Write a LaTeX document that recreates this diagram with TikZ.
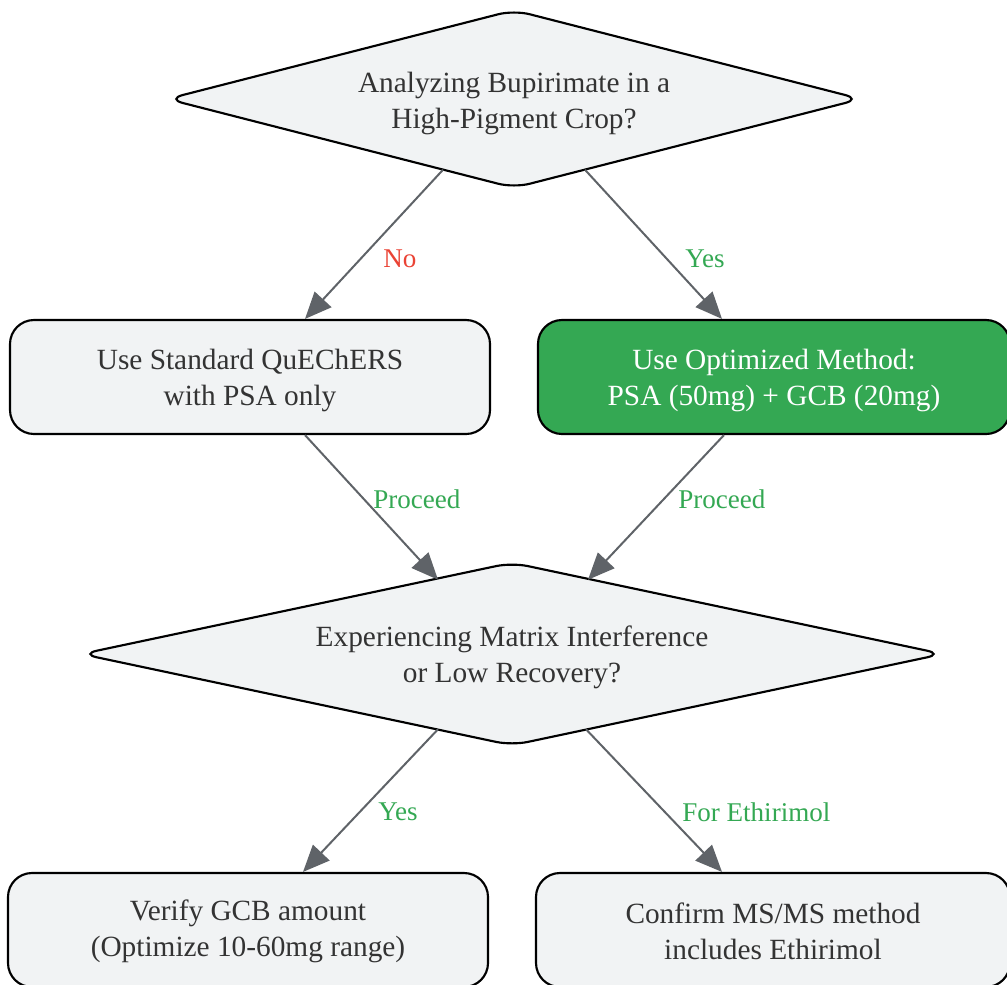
\documentclass[tikz,border=0pt]{standalone}
\usepackage{fontspec}
\setmainfont{Liberation Serif}
\usetikzlibrary{arrows.meta,calc,backgrounds}
\definecolor{nodefill}{HTML}{F1F3F4}
\definecolor{edgecol}{HTML}{5F6368}
\definecolor{txt}{HTML}{333333}
\definecolor{gfill}{HTML}{34A853}
\definecolor{lred}{HTML}{EA4335}
\definecolor{lgreen}{HTML}{34A853}
\tikzset{
  x=0.75pt, y=-0.75pt,
  fnt/.style={font=\fontsize{22}{27.5}\selectfont},
  lfnt/.style={font=\fontsize{20.3}{25}\selectfont},
  txtn/.style={rectangle, text=txt, align=center, fnt, inner sep=0pt, yshift=-2.5pt},
  holder/.style={rectangle, inner sep=0pt},
  decshape/.style={draw=black, line width=1.6pt, fill=nodefill, rounded corners=12pt},
  boxn/.style={draw=black, line width=1.6pt, fill=nodefill, rectangle, rounded corners=18pt,
    minimum height=85.5pt, inner sep=0pt},
  arr/.style={draw=edgecol, line width=1.5pt, -{Triangle[length=20pt,width=17pt]}},
  lab/.style={lfnt, inner sep=0pt, anchor=west}
}
\begin{document}
\begin{tikzpicture}
\useasboundingbox (0,0) rectangle (1007,985);
% decision 1
\node[holder, minimum width=519.75pt, minimum height=132.75pt] (d1) at (514,99) {};
\begin{scope}[on background layer]
\path[decshape] (d1.north) -- (d1.east) -- (d1.south) -- (d1.west) -- cycle;
\end{scope}
\node[txtn] (d1t) at (514,100) {Analyzing Bupirimate in a\\High-Pigment Crop?};
% boxes row 1
\node[boxn, minimum width=360pt] (b1) at (250,377) {};
\node[txtn] (b1t) at (b1.center) {Use Standard QuEChERS\\with PSA only};
\node[boxn, minimum width=354pt, fill=gfill] (b2) at (774,377) {};
\node[txtn, text=white] (b2t) at (b2.center) {Use Optimized Method:\\PSA (50mg) + GCB (20mg)};
% decision 2
\node[holder, minimum width=645.75pt, minimum height=136.5pt] (d2) at (512,654) {};
\begin{scope}[on background layer]
\path[decshape] (d2.north) -- (d2.east) -- (d2.south) -- (d2.west) -- cycle;
\end{scope}
\node[txtn] (d2t) at (512,654) {Experiencing Matrix Interference\\or Low Recovery?};
% boxes row 2
\node[boxn, minimum width=360pt] (b3) at (248,930) {};
\node[txtn] (b3t) at (248,928) {Verify GCB amount\\(Optimize 10-60mg range)};
\node[boxn, minimum width=355.5pt] (b4) at (773,930) {};
\node[txtn] (b4t) at (773,928) {Confirm MS/MS method\\includes Ethirimol};
% edges
\draw[arr] ($(d1.south)+(-71,-18)$) -- ($(b1.north)+(55,0)$);
\draw[arr] ($(d1.south)+(71,-18)$) -- ($(b2.north)+(-52,0)$);
\draw[arr] ($(b1.south)+(55,0)$) -- ($(d2.north)+(-74,17)$);
\draw[arr] ($(b2.south)+(-50,0)$) -- ($(d2.north)+(76,17)$);
\draw[arr] ($(d2.south)+(-74,-16)$) -- ($(b3.north)+(55,0)$);
\draw[arr] ($(d2.south)+(74,-16)$) -- ($(b4.north)+(-51,0)$);
% labels
\node[lab, text=lred] (l1) at (383,259) {No};
\node[lab, text=lgreen] (l2) at (685,259) {Yes};
\node[lab, text=lgreen] (l3) at (373,499) {Proceed};
\node[lab, text=lgreen] (l4) at (678,499) {Proceed};
\node[lab, text=lgreen] (l5) at (378,812) {Yes};
\node[lab, text=lgreen] (l6) at (682,812) {For Ethirimol};
\end{tikzpicture}
\end{document}
